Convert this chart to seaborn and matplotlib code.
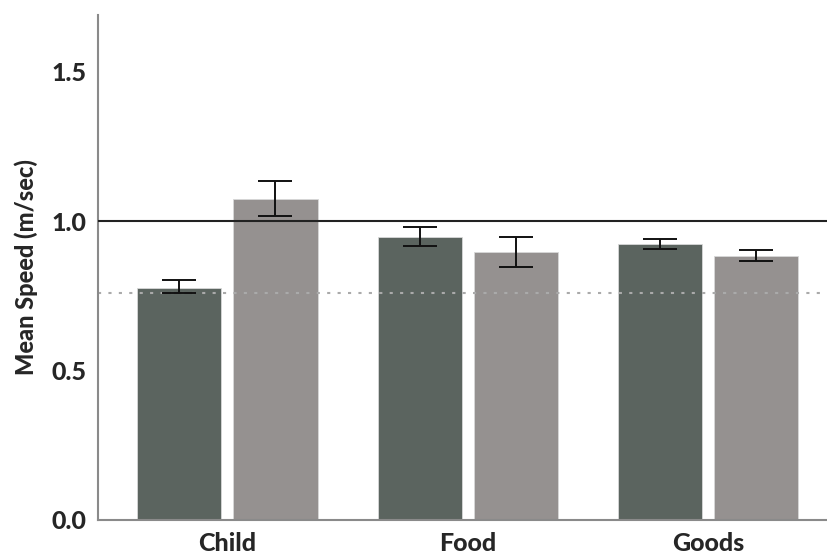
import matplotlib
matplotlib.use("Agg")
import matplotlib.pyplot as plt
import seaborn as sns
import pandas as pd

# Mean walking speed per carried item, two conditions each
categories = ["Child", "Food", "Goods"]
conditions = ["Condition 1", "Condition 2"]
mean_cond1 = [0.776, 0.946, 0.923]
mean_cond2 = [1.074, 0.895, 0.884]
err_low_cond1 = [0.759, 0.917, 0.906]
err_high_cond1 = [0.803, 0.979, 0.939]
err_low_cond2 = [1.017, 0.845, 0.868]
err_high_cond2 = [1.134, 0.946, 0.902]
reference_speed = 1.0
threshold_speed = 0.76
y_ticks = [0.0, 0.5, 1.0, 1.5]

df = pd.DataFrame({
    "item": categories * 2,
    "condition": [conditions[0]] * 3 + [conditions[1]] * 3,
    "speed": mean_cond1 + mean_cond2,
    "lo": err_low_cond1 + err_low_cond2,
    "hi": err_high_cond1 + err_high_cond2,
})

sns.set_theme(style="white")
plt.rcParams["font.family"] = ["Lato", "DejaVu Sans"]

fig, ax = plt.subplots(figsize=(8.28, 5.56), dpi=100)
fig.subplots_adjust(left=0.118, right=1.0, bottom=0.065, top=0.973)

palette = {conditions[0]: "#5b645f", conditions[1]: "#959190"}
sns.barplot(data=df, x="item", y="speed", hue="condition", order=categories,
            hue_order=conditions, palette=palette, width=0.8, gap=0.125,
            errorbar=None, saturation=1, edgecolor="#d8d8d8", linewidth=0.6,
            legend=False, ax=ax)

# Error bars placed at the centre of each drawn bar
bars = [p for p in ax.patches if p.get_height() > 0]
for p in bars:
    xc = p.get_x() + p.get_width() / 2
    h = p.get_height()
    row = df.loc[(df["speed"] - h).abs().idxmin()]
    ax.errorbar(xc, h, yerr=[[h - row["lo"]], [row["hi"] - h]], fmt="none",
                ecolor="#111111", elinewidth=1.4, capsize=12, capthick=1.4, zorder=5)

ax.axhline(reference_speed, color="#222222", lw=1.5, zorder=4)
ax.axhline(threshold_speed, color="#aaaaaa", lw=1.5, ls=(0, (1.5, 3.5)), zorder=1)

ax.set_xlim(-0.54, 2.5)
ax.set_ylim(0, 1.69)
ax.set_yticks(y_ticks)
ax.set_yticklabels([f"{t:.1f}" for t in y_ticks])
ax.set_xlabel("")
ax.set_ylabel("Mean Speed (m/sec)", fontsize=17, fontweight="black", labelpad=10)
ax.tick_params(axis="both", length=0, labelsize=18)
for lab in ax.get_xticklabels() + ax.get_yticklabels():
    lab.set_fontweight("black")
ax.tick_params(axis="x", pad=9)
ax.tick_params(axis="y", pad=8)

for side in ["top", "right"]:
    ax.spines[side].set_visible(False)
for side in ["left", "bottom"]:
    ax.spines[side].set_color("#8a8a8a")
    ax.spines[side].set_linewidth(1.5)

fig.savefig("out.png", dpi=100)
